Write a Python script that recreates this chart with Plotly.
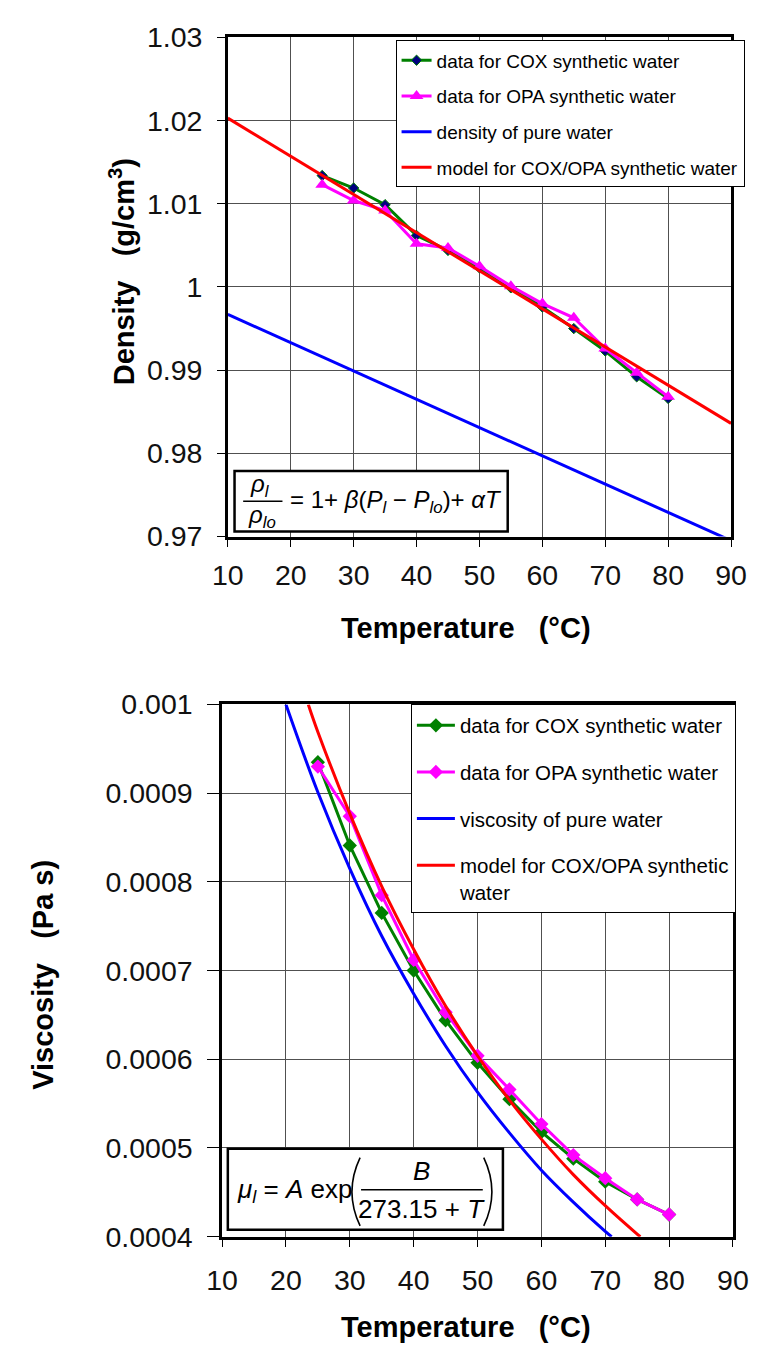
import plotly.graph_objects as go

W, H = 771, 1365

# ---------------- data: density chart ----------------
temp_data = [25, 30, 35, 40, 45, 50, 55, 60, 65, 70, 75, 80]
dens_cox = [1.0134, 1.0119, 1.0099, 1.0062, 1.0044, 1.0023, 0.9999, 0.9976, 0.9950, 0.9923, 0.9892, 0.9866]
dens_opa = [1.0123, 1.0104, 1.0092, 1.0052, 1.0047, 1.0025, 1.0001, 0.9980, 0.9963, 0.9926, 0.9897, 0.9868]
dens_pure_t = [10, 90]
dens_pure = [0.9967, 0.9695]
dens_model_t = [10, 90]
dens_model = [1.0203, 0.9836]

dens_ticks = [0.97, 0.98, 0.99, 1.0, 1.01, 1.02, 1.03]
dens_ticklabels = ["0.97", "0.98", "0.99", "1", "1.01", "1.02", "1.03"]

# ---------------- data: viscosity chart ----------------
visc_cox = [0.000935, 0.000841, 0.000765, 0.000700, 0.000644, 0.000596, 0.000555, 0.000518, 0.000488, 0.000462, 0.000442, 0.000425]
visc_opa = [0.000930, 0.000874, 0.000785, 0.000712, 0.000653, 0.000604, 0.000566, 0.000527, 0.000492, 0.000466, 0.000442, 0.000425]
visc_pure_t = [20, 25, 30, 35, 40, 45, 50, 55, 60, 65, 70, 71]
visc_pure = [0.001, 0.000901, 0.000815, 0.000739, 0.000674, 0.000615, 0.000563, 0.000517, 0.000475, 0.000439, 0.000406, 0.0004]
visc_model_t = [23.5, 25, 30, 35, 40, 45, 50, 55, 60, 65, 70, 75, 75.5]
visc_model = [0.001, 0.000969, 0.000877, 0.000795, 0.000724, 0.000660, 0.000604, 0.000554, 0.000510, 0.000470, 0.000435, 0.000403, 0.0004]

visc_ticks = [0.0004, 0.0005, 0.0006, 0.0007, 0.0008, 0.0009, 0.001]
visc_ticklabels = ["0.0004", "0.0005", "0.0006", "0.0007", "0.0008", "0.0009", "0.001"]

temp_ticks = [10, 20, 30, 40, 50, 60, 70, 80, 90]

FONT = "Arial, Liberation Sans, sans-serif"
GREEN = "#008000"
MAGENTA = "#FF00FF"
BLUE = "#0000FF"
RED = "#FF0000"


def px(x):
    return x / W


def py(y):
    return 1 - y / H


fig = go.Figure()

# top chart traces
fig.add_trace(go.Scatter(x=temp_data, y=dens_cox, mode="lines+markers", name="data for COX synthetic water",
                         line=dict(color=GREEN, width=3),
                         marker=dict(symbol="diamond", size=8, color="#000080", line=dict(color=GREEN, width=1)),
                         xaxis="x", yaxis="y", legend="legend", legendgroup="a1"))
fig.add_trace(go.Scatter(x=temp_data, y=dens_opa, mode="lines+markers", name="data for OPA synthetic water",
                         line=dict(color=MAGENTA, width=3),
                         marker=dict(symbol="triangle-up", size=12, color=MAGENTA),
                         xaxis="x", yaxis="y", legend="legend", legendgroup="a2"))
fig.add_trace(go.Scatter(x=dens_pure_t, y=dens_pure, mode="lines", name="density of pure water",
                         line=dict(color=BLUE, width=3), xaxis="x", yaxis="y", legend="legend", legendgroup="a3"))
fig.add_trace(go.Scatter(x=dens_model_t, y=dens_model, mode="lines", name="model for COX/OPA synthetic water",
                         line=dict(color=RED, width=3), xaxis="x", yaxis="y", legend="legend", legendgroup="a4"))

# bottom chart traces
fig.add_trace(go.Scatter(x=temp_data, y=visc_cox, mode="lines+markers", name="data for COX synthetic water",
                         line=dict(color=GREEN, width=3),
                         marker=dict(symbol="diamond", size=11, color=GREEN),
                         xaxis="x2", yaxis="y2", legend="legend2", legendgroup="b1"))
fig.add_trace(go.Scatter(x=temp_data, y=visc_opa, mode="lines+markers", name="data for OPA synthetic water",
                         line=dict(color=MAGENTA, width=3),
                         marker=dict(symbol="diamond", size=11, color=MAGENTA),
                         xaxis="x2", yaxis="y2", legend="legend2", legendgroup="b2"))
fig.add_trace(go.Scatter(x=visc_pure_t, y=visc_pure, mode="lines", name="viscosity of pure water",
                         line=dict(color=BLUE, width=3, shape="spline"), xaxis="x2", yaxis="y2",
                         legend="legend2", legendgroup="b3"))
fig.add_trace(go.Scatter(x=visc_model_t, y=visc_model, mode="lines", name="model for COX/OPA synthetic<br>water",
                         line=dict(color=RED, width=3, shape="spline"), xaxis="x2", yaxis="y2",
                         legend="legend2", legendgroup="b4"))

axis_common = dict(showline=True, mirror=True, linecolor="black", linewidth=2.5,
                   showgrid=True, gridcolor="#505050", gridwidth=1, zeroline=False,
                   ticks="outside", tickcolor="black", tickwidth=1,
                   tickfont=dict(family=FONT, size=28.5, color="#111111"))

top_dom_y = [py(533), py(22)]
bot_dom_y = [py(1250), py(705)]

fig.update_layout(
    width=W, height=H,
    margin=dict(l=0, r=0, t=0, b=0),
    paper_bgcolor="white", plot_bgcolor="white",
    font=dict(family=FONT, color="black"),
    xaxis=dict(domain=[px(221), px(746)], range=[10, 90], tickvals=temp_ticks, anchor="y",
               ticklen=8, ticklabelstandoff=4, **axis_common),
    yaxis=dict(domain=top_dom_y, range=[0.97, 1.03], tickvals=dens_ticks, ticktext=dens_ticklabels,
               anchor="x", ticklen=8, ticklabelstandoff=9, **axis_common),
    xaxis2=dict(domain=[px(215), px(748)], range=[10, 90], tickvals=temp_ticks, anchor="y2",
                ticklen=8, ticklabelstandoff=8, **axis_common),
    yaxis2=dict(domain=bot_dom_y, range=[0.0004, 0.001], tickvals=visc_ticks, ticktext=visc_ticklabels,
                anchor="x2", ticklen=12, ticklabelstandoff=9, **axis_common),
    legend=dict(x=px(396), y=py(25), xanchor="left", yanchor="top", bgcolor="white",
                bordercolor="black", borderwidth=1, font=dict(family=FONT, size=19, color="black"),
                traceorder="grouped", tracegroupgap=8, itemwidth=30),
    legend2=dict(x=px(412), y=py(705), xanchor="left", yanchor="top", bgcolor="white",
                 bordercolor="black", borderwidth=1, font=dict(family=FONT, size=20.5, color="black"),
                 traceorder="grouped", tracegroupgap=17, itemwidth=38, valign="top"),
)

annotations = []
shapes = []
TITLE_FONT = dict(family=FONT, size=29, color="black")

# axis titles
annotations.append(dict(text="<b>Density   (g/cm<sup>3</sup>)</b>", x=px(110), y=py(262), xref="paper", yref="paper",
                        textangle=-90, showarrow=False, font=TITLE_FONT, xanchor="center", yanchor="middle"))
annotations.append(dict(text="<b>Temperature   (°C)</b>", x=px(470), y=py(627), xref="paper", yref="paper",
                        showarrow=False, font=TITLE_FONT, xanchor="center", yanchor="middle"))
annotations.append(dict(text="<b>Viscosity   (Pa s)</b>", x=px(28), y=py(982), xref="paper", yref="paper",
                        textangle=-90, showarrow=False, font=TITLE_FONT, xanchor="center", yanchor="middle"))
annotations.append(dict(text="<b>Temperature   (°C)</b>", x=px(470), y=py(1342), xref="paper", yref="paper",
                        showarrow=False, font=TITLE_FONT, xanchor="center", yanchor="middle"))

# formula box (density)
EQ = dict(family=FONT, size=24, color="black")
shapes.append(dict(type="rect", xref="paper", yref="paper", x0=px(228), x1=px(513), y0=py(528), y1=py(466),
                   line=dict(color="black", width=2.5), fillcolor="white", layer="above"))
annotations.append(dict(text="<i>ρ<sub>l</sub></i>", x=px(255), y=py(481), xref="paper", yref="paper",
                        showarrow=False, font=EQ, xanchor="center", yanchor="middle"))
shapes.append(dict(type="line", xref="paper", yref="paper", x0=px(237), x1=px(278), y0=py(497), y1=py(497),
                   line=dict(color="black", width=1.5), layer="above"))
annotations.append(dict(text="<i>ρ<sub>lo</sub></i>", x=px(257), y=py(513), xref="paper", yref="paper",
                        showarrow=False, font=EQ, xanchor="center", yanchor="middle"))
annotations.append(dict(text="= 1+ <i>β</i>(<i>P<sub>l</sub></i> − <i>P<sub>lo</sub></i>)+ <i>αT</i>",
                        x=px(284), y=py(497), xref="paper", yref="paper",
                        showarrow=False, font=EQ, xanchor="left", yanchor="middle"))

# formula box (viscosity)
EQ2 = dict(family=FONT, size=26, color="black")
shapes.append(dict(type="rect", xref="paper", yref="paper", x0=px(221), x1=px(508), y0=py(1243), y1=py(1160),
                   line=dict(color="black", width=2.5), fillcolor="white", layer="above"))
annotations.append(dict(text="<i>μ<sub>l</sub></i> = <i>A</i> exp", x=px(228), y=py(1203), xref="paper", yref="paper",
                        showarrow=False, font=EQ2, xanchor="left", yanchor="middle"))
# thin tall parentheses
shapes.append(dict(type="path", xref="paper", yref="paper",
                   path=f"M {px(359)},{py(1169)} Q {px(342)},{py(1204)} {px(359)},{py(1239)}",
                   line=dict(color="black", width=1.6), layer="above"))
shapes.append(dict(type="path", xref="paper", yref="paper",
                   path=f"M {px(488)},{py(1169)} Q {px(505)},{py(1204)} {px(488)},{py(1239)}",
                   line=dict(color="black", width=1.6), layer="above"))
annotations.append(dict(text="<i>B</i>", x=px(423), y=py(1183), xref="paper", yref="paper",
                        showarrow=False, font=EQ2, xanchor="center", yanchor="middle"))
shapes.append(dict(type="line", xref="paper", yref="paper", x0=px(360), x1=px(487), y0=py(1202), y1=py(1202),
                   line=dict(color="black", width=1.5), layer="above"))
annotations.append(dict(text="273.15 + <i>T</i>", x=px(423), y=py(1222), xref="paper", yref="paper",
                        showarrow=False, font=EQ2, xanchor="center", yanchor="middle"))

fig.update_layout(annotations=annotations, shapes=shapes)

fig.write_html("out.html")
